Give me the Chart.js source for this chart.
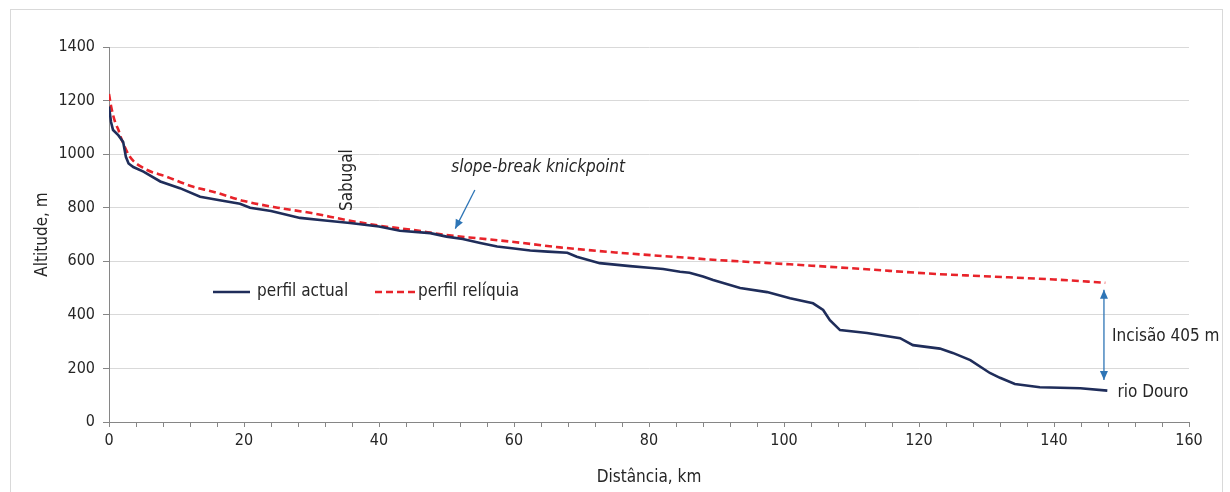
<!DOCTYPE html>
<html>
<head>
<meta charset="utf-8">
<script src="https://cdn.jsdelivr.net/npm/chart.js@4.4.1/dist/chart.umd.min.js"></script>
<style>
  html, body { margin: 0; padding: 0; background: #fff; }
  #wrap { width: 1230px; height: 492px; }
</style>
</head>
<body>
<div id="wrap"><canvas id="profileChart" width="1230" height="492"></canvas></div>
<script>
// perfil actual (distance km / altitude m)
const actualKm = [0, 0.3, 0.6, 1.4, 2.1, 2.5, 2.9, 3.6, 5.1, 7.6, 10.5, 13.5, 16.4, 19.4, 20.9, 24, 28.3, 32,
  35.7, 40, 43.1, 47.6, 50, 52.4, 55, 57.5, 60, 62.4, 65, 67.9, 69.3, 72.7, 77.2, 80, 82.1, 84.6, 86, 88,
  89.5, 93.5, 97.5, 100.9, 104.3, 105.8, 106.8, 108.3, 112.3, 117.2, 119.1, 123.1, 125, 127.6, 130.5, 132,
  134.2, 137.9, 143.9, 147.9];
const actualAlt = [1178, 1120, 1090, 1070, 1045, 990, 965, 952, 935, 898, 873, 841, 828, 815, 800, 788, 762, 752,
  743, 730, 714, 705, 692, 683, 668, 655, 648, 640, 636, 632, 617, 593, 582, 576, 571, 561, 557, 543,
  530, 500, 485, 462, 443, 418, 380, 343, 332, 313, 287, 274, 258, 231, 183, 165,
  142, 130, 126, 117];

// perfil reliquia
const reliquiaKm = [0, 0.3, 0.9, 1.4, 1.9, 3.1, 5.1, 8.5, 12.5, 15.4, 20, 25, 30, 35, 40, 45, 50, 55, 60, 66.8,
  75, 84.6, 90, 100, 110, 123, 129, 140, 147.6];
const reliquiaAlt = [1225, 1180, 1120, 1090, 1053, 990, 948, 916, 878, 860, 825, 800, 780, 755, 733, 717, 698, 685,
  672, 652, 633, 615, 605, 590, 574, 552, 545, 532, 520];

const seriesNames = ['perfil actual', 'perfil relíquia'];
const xTitle = 'Distância, km';
const yTitle = 'Altitude, m';

const FONT = "'DejaVu Sans Condensed', 'Liberation Sans', sans-serif";
const TEXT = '#262626';
const AXIS = '#868686';
const ARROW = '#2e75b6';

const toPoints = (xs, ys) => xs.map((x, i) => ({ x: x, y: ys[i] }));

const drawArrow = (ctx, x1, y1, x2, y2, both) => {
  const head = (fx, fy, tx, ty) => {
    const a = Math.atan2(ty - fy, tx - fx);
    const len = 9, half = 4;
    ctx.beginPath();
    ctx.moveTo(tx, ty);
    ctx.lineTo(tx - len * Math.cos(a) + half * Math.sin(a), ty - len * Math.sin(a) - half * Math.cos(a));
    ctx.lineTo(tx - len * Math.cos(a) - half * Math.sin(a), ty - len * Math.sin(a) + half * Math.cos(a));
    ctx.closePath();
    ctx.fill();
  };
  ctx.beginPath();
  ctx.moveTo(x1, y1);
  ctx.lineTo(x2, y2);
  ctx.stroke();
  head(x1, y1, x2, y2);
  if (both) head(x2, y2, x1, y1);
};

const framePlugin = {
  id: 'frame',
  beforeDraw(chart) {
    const ctx = chart.ctx;
    ctx.save();
    ctx.fillStyle = '#fff';
    ctx.fillRect(0, 0, chart.width, chart.height);
    ctx.strokeStyle = '#d9d9d9';
    ctx.lineWidth = 1;
    ctx.strokeRect(10.5, 9.5, 1212, 500);
    ctx.restore();
  }
};

const notesPlugin = {
  id: 'notes',
  afterDatasetsDraw(chart) {
    const ctx = chart.ctx;
    const xs = chart.scales.x, ys = chart.scales.y;
    const px = (v) => xs.getPixelForValue(v);
    const py = (v) => ys.getPixelForValue(v);
    ctx.save();
    ctx.fillStyle = TEXT;
    ctx.font = '17px ' + FONT;
    ctx.textBaseline = 'middle';

    // Sabugal, rotated
    ctx.save();
    ctx.translate(px(35.4), py(903));
    ctx.rotate(-Math.PI / 2);
    ctx.textAlign = 'center';
    ctx.fillText('Sabugal', 0, 0);
    ctx.restore();

    ctx.textAlign = 'left';
    ctx.font = 'italic 17px ' + FONT;
    ctx.fillText('slope-break knickpoint', px(50.7), py(948));

    ctx.font = '17px ' + FONT;
    ctx.fillText('Incisão 405 m', px(148.6), py(318));
    ctx.fillText('rio Douro', px(149.4), py(108));

    ctx.strokeStyle = ARROW;
    ctx.fillStyle = ARROW;
    ctx.lineWidth = 1.3;
    drawArrow(ctx, px(54.2), py(866), px(51.3), py(722), false);
    drawArrow(ctx, px(147.4), py(157), px(147.4), py(494), true);

    // legend
    ctx.font = '17px ' + FONT;
    ctx.fillStyle = TEXT;
    const items = [
      { x0: 213, x1: 250, tx: 257 },
      { x0: 375, x1: 415, tx: 418 }
    ];
    chart.data.datasets.forEach((ds, i) => {
      const it = items[i];
      ctx.save();
      ctx.strokeStyle = ds.borderColor;
      ctx.lineWidth = ds.borderWidth;
      ctx.setLineDash(ds.borderDash || []);
      ctx.beginPath();
      ctx.moveTo(it.x0, 292);
      ctx.lineTo(it.x1, 292);
      ctx.stroke();
      ctx.restore();
      ctx.fillText(ds.label, it.tx, 292);
    });
    ctx.restore();
  }
};

Chart.defaults.font.family = FONT;
Chart.defaults.color = TEXT;

new Chart(document.getElementById('profileChart'), {
  type: 'line',
  data: {
    datasets: [
      {
        label: seriesNames[0],
        data: toPoints(actualKm, actualAlt),
        borderColor: '#1f2d5a',
        borderWidth: 2.6,
        pointRadius: 0,
        tension: 0
      },
      {
        label: seriesNames[1],
        data: toPoints(reliquiaKm, reliquiaAlt),
        borderColor: '#e8232a',
        borderWidth: 2.6,
        borderDash: [7, 4],
        pointRadius: 0,
        cubicInterpolationMode: 'monotone'
      }
    ]
  },
  options: {
    responsive: false,
    animation: false,
    layout: { padding: { left: 0, top: 47, right: 41, bottom: 0 } },
    plugins: {
      legend: { display: false },
      tooltip: { enabled: false }
    },
    scales: {
      x: {
        type: 'linear',
        min: 0,
        max: 160,
        afterFit: (scale) => { scale.height = 70; },
        border: { display: true, color: AXIS, width: 1 },
        grid: { drawOnChartArea: false, drawTicks: true, tickLength: 5, tickColor: AXIS },
        ticks: {
          stepSize: 4,
          autoSkip: false,
          maxRotation: 0,
          padding: 4,
          font: { size: 16 },
          callback: (v) => (v % 20 === 0 ? String(v) : '')
        },
        title: { display: true, text: xTitle, font: { size: 17 }, padding: { top: 0, bottom: 4 } }
      },
      y: {
        min: 0,
        max: 1400,
        afterFit: (scale) => { scale.width = 109; },
        border: { display: true, color: AXIS, width: 1 },
        grid: { color: '#d9d9d9', drawTicks: true, tickLength: 6, tickColor: AXIS },
        ticks: { stepSize: 200, padding: 8, font: { size: 16 }, callback: (v) => String(v) },
        title: { display: true, text: yTitle, font: { size: 17 }, padding: { top: 32, bottom: 0 } }
      }
    }
  },
  plugins: [framePlugin, notesPlugin]
});
</script>
</body>
</html>
